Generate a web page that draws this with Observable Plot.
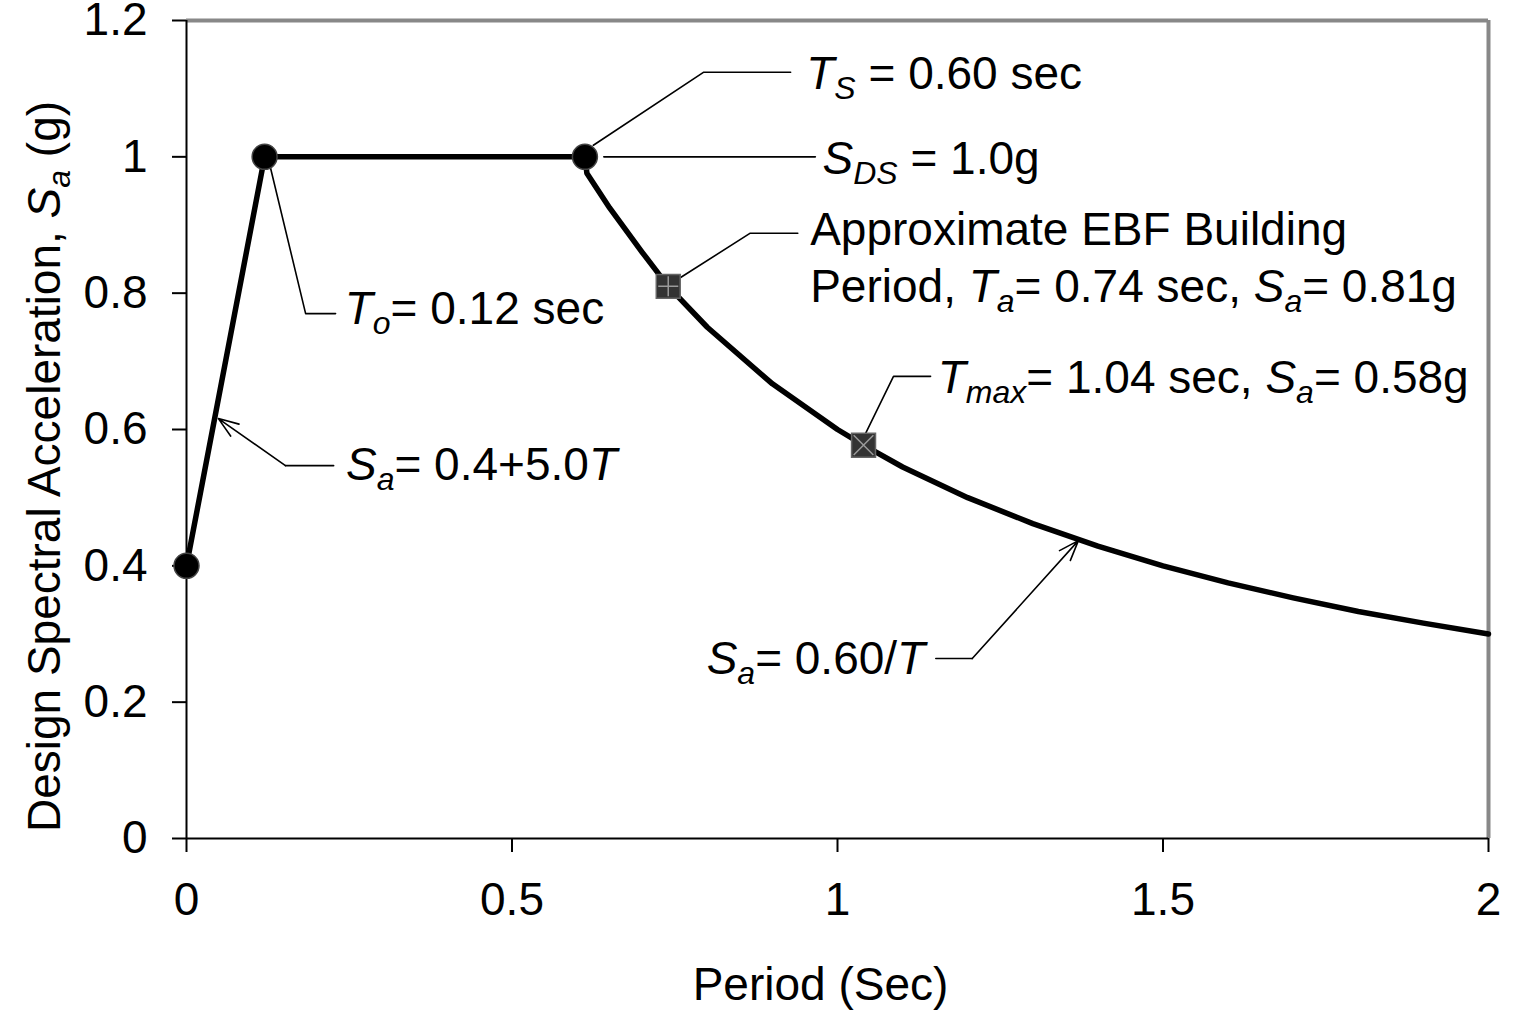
<!DOCTYPE html>
<html>
<head>
<meta charset="utf-8">
<script src="https://cdn.jsdelivr.net/npm/d3@7"></script>
<script src="https://cdn.jsdelivr.net/npm/@observablehq/plot@0.6"></script>
<style>
  body { margin: 0; background: #fff; }
  #chart svg text { white-space: pre; }
</style>
</head>
<body>
<div id="chart"></div>
<script>
// ---- Data ----
const periodT   = [0, 0.12, 0.612, 0.615, 0.65, 0.70, 0.74, 0.80, 0.90, 1.00, 1.04, 1.10, 1.20, 1.30, 1.40, 1.50, 1.60, 1.70, 1.80, 1.90, 2.00];
const spectralSa = [0.4, 1.0, 1.0, 0.976, 0.925, 0.86, 0.81, 0.75, 0.667, 0.60, 0.577, 0.545, 0.50, 0.462, 0.429, 0.40, 0.375, 0.353, 0.333, 0.316, 0.30];

const cornerT  = [0, 0.12, 0.612];
const cornerSa = [0.4, 1.0, 1.0];

const markT    = [0.74, 1.04];
const markSa   = [0.81, 0.577];
const markCross = ["plus", "times"];

const xTicks = [0, 0.5, 1, 1.5, 2];
const yTicks = [0, 0.2, 0.4, 0.6, 0.8, 1, 1.2];
const xTickLabels = ["0", "0.5", "1", "1.5", "2"];
const yTickLabels = ["0", "0.2", "0.4", "0.6", "0.8", "1", "1.2"];

const xTitle = "Period (Sec)";
const yTitle = "Design Spectral Acceleration, {S}{_a} (g)";

// annotation texts ({X} italic, {_x} italic subscript)
const noteText = [
  "{T}{_S} = 0.60 sec",
  "{S}{_DS} = 1.0g",
  "Approximate EBF Building",
  "Period, {T}{_a}= 0.74 sec, {S}{_a}= 0.81g",
  "{T}{_max}= 1.04 sec, {S}{_a}= 0.58g",
  "{T}{_o}= 0.12 sec",
  "{S}{_a}= 0.4+5.0{T}",
  "{S}{_a}= 0.60/{T}"
];
const noteT  = [0.952, 0.977, 0.958, 0.958, 1.154, 0.243, 0.245, 0.799];
const noteSa = [1.121, 0.997, 0.892, 0.808, 0.675, 0.776, 0.547, 0.263];

// leader lines (polylines, grouped by id)
const leaderId = [0,0,0, 1,1, 2,2,2, 3,3,3, 4,4,4, 5,5, 6,6];
const leaderT  = [0.625,0.794,0.928, 0.641,0.966, 0.759,0.866,0.939, 1.043,1.086,1.143, 0.129,0.183,0.229, 0.226,0.152, 1.151,1.207];
const leaderSa = [1.017,1.124,1.124, 1.0,1.0, 0.823,0.888,0.888, 0.594,0.678,0.678, 0.984,0.770,0.770, 0.547,0.547, 0.264,0.264];

// arrows (from -> to)
const arrowT1  = [0.152, 1.207];
const arrowSa1 = [0.547, 0.264];
const arrowT2  = [0.049, 1.370];
const arrowSa2 = [0.616, 0.437];

// ---- Tables built from the arrays ----
const curve   = periodT.map((t, i) => ({t, sa: spectralSa[i]}));
const corners = cornerT.map((t, i) => ({t, sa: cornerSa[i]}));
const marks   = markT.map((t, i) => ({t, sa: markSa[i], sym: markCross[i]}));
const notes   = noteText.map((s, i) => ({s, t: noteT[i], sa: noteSa[i]}));
const leaders = leaderT.map((t, i) => ({id: leaderId[i], t, sa: leaderSa[i]}));
const arrows  = arrowT1.map((t, i) => ({t1: t, s1: arrowSa1[i], t2: arrowT2[i], s2: arrowSa2[i]}));

const FONT = "'Liberation Sans', Arial, Helvetica, sans-serif";
const FS = 46;

const chart = Plot.plot({
  width: 1516,
  height: 1010,
  marginLeft: 186,
  marginRight: 28,
  marginTop: 20,
  marginBottom: 172,
  style: {fontFamily: FONT, fontSize: FS + "px", color: "black", background: "white", overflow: "visible"},
  x: {domain: [0, 2]},
  y: {domain: [0, 1.2]},
  marks: [
    Plot.ruleY([1.2], {stroke: "#888", strokeWidth: 4}),
    Plot.ruleX([2], {stroke: "#888", strokeWidth: 4}),
    Plot.ruleX([0], {stroke: "black", strokeWidth: 2}),
    Plot.ruleY([0], {stroke: "black", strokeWidth: 2}),
    Plot.axisX({ticks: xTicks, tickFormat: d => xTickLabels[xTicks.indexOf(d)], tickSize: 14, tickPadding: 30, strokeWidth: 2, stroke: "black", fill: "black", label: null}),
    Plot.axisY({ticks: yTicks, tickFormat: d => yTickLabels[yTicks.indexOf(d)], tickSize: 14, tickPadding: 25, strokeWidth: 2, stroke: "black", fill: "black", label: null}),
    // leaders
    Plot.line(leaders, {x: "t", y: "sa", z: "id", stroke: "black", strokeWidth: 1.6}),
    Plot.arrow(arrows, {x1: "t1", y1: "s1", x2: "t2", y2: "s2", stroke: "black", strokeWidth: 1.6, headLength: 20, headAngle: 40}),
    // spectrum curve
    Plot.line(curve, {x: "t", y: "sa", stroke: "black", strokeWidth: 5.5, strokeLinejoin: "round"}),
    Plot.dot(corners, {x: "t", y: "sa", r: 12.5, fill: "black", stroke: "#444", strokeWidth: 1.5}),
    Plot.dot(marks, {x: "t", y: "sa", symbol: "square", r: 13.5, fill: "#333", stroke: "#666", strokeWidth: 1.5}),
    Plot.dot(marks.filter(d => d.sym === "plus"), {x: "t", y: "sa", symbol: "plus", r: 6.5, fill: "none", stroke: "#9a9a9a", strokeWidth: 1.5}),
    Plot.dot(marks.filter(d => d.sym === "times"), {x: "t", y: "sa", symbol: "times", r: 9, fill: "none", stroke: "#9a9a9a", strokeWidth: 1.5}),
    // annotations
    Plot.text(notes, {x: "t", y: "sa", text: "s", textAnchor: "start", lineAnchor: "middle", fontSize: FS, fill: "black"}),
    // axis titles
    Plot.text([xTitle], {text: d => d, frameAnchor: "bottom", dx: -17, dy: 147, lineAnchor: "middle", textAnchor: "middle", fontSize: FS, fill: "black"}),
    Plot.text([yTitle], {text: d => d, frameAnchor: "left", rotate: -90, dx: -141, dy: 37, lineAnchor: "middle", textAnchor: "middle", fontSize: FS, fill: "black"})
  ]
});

// rich text: {X} italic, {_x} italic subscript
const NS = "http://www.w3.org/2000/svg";
const SUB_SHIFT = 10, SUB_SIZE = 32;
d3.select(chart).selectAll("text").each(function () {
  const el = this;
  const s = el.textContent;
  if (!s.includes("{")) return;
  el.textContent = "";
  let shifted = false;
  const add = (str, italic, sub) => {
    if (!str) return;
    const t = document.createElementNS(NS, "tspan");
    t.textContent = str;
    if (italic) t.setAttribute("font-style", "italic");
    if (sub) { t.setAttribute("font-size", SUB_SIZE); t.setAttribute("dy", SUB_SHIFT); shifted = true; }
    else if (shifted) { t.setAttribute("dy", -SUB_SHIFT); shifted = false; }
    el.appendChild(t);
  };
  const re = /\{(_?)([^}]*)\}/g;
  let last = 0, m;
  while ((m = re.exec(s)) !== null) {
    add(s.slice(last, m.index), false, false);
    add(m[2], true, m[1] === "_");
    last = re.lastIndex;
  }
  add(s.slice(last), false, false);
});

document.getElementById("chart").appendChild(chart);
</script>
</body>
</html>
